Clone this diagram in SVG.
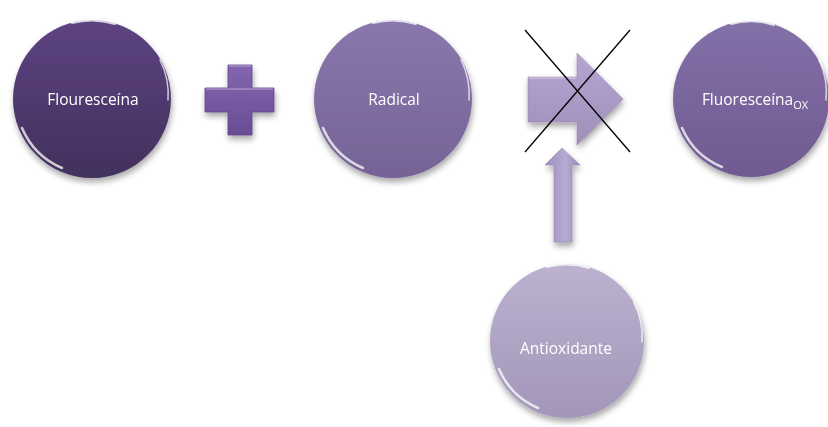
<svg xmlns="http://www.w3.org/2000/svg" width="828" height="427" viewBox="0 0 828 427">
<defs>
<linearGradient id="g1" x1="0" y1="0" x2="0" y2="1"><stop offset="0" stop-color="#5d4381"/><stop offset="1" stop-color="#42305d"/></linearGradient>
<linearGradient id="g2" x1="0" y1="0" x2="0" y2="1"><stop offset="0" stop-color="#8a77ad"/><stop offset="1" stop-color="#766396"/></linearGradient>
<linearGradient id="g3" x1="0" y1="0" x2="0" y2="1"><stop offset="0" stop-color="#8470a8"/><stop offset="1" stop-color="#6f5a91"/></linearGradient>
<linearGradient id="g4" x1="0" y1="0" x2="0" y2="1"><stop offset="0" stop-color="#bcb2cf"/><stop offset="1" stop-color="#a396b9"/></linearGradient>
<linearGradient id="gp" x1="0" y1="0" x2="0" y2="1"><stop offset="0" stop-color="#8466b0"/><stop offset="1" stop-color="#6a4c96"/></linearGradient>
<linearGradient id="ga" x1="0" y1="0" x2="0" y2="1"><stop offset="0" stop-color="#b4a6d0"/><stop offset="1" stop-color="#9d8fba"/></linearGradient>
<linearGradient id="gu" x1="0" y1="0" x2="1" y2="0"><stop offset="0" stop-color="#9c8fbd"/><stop offset="0.6" stop-color="#b7aad2"/><stop offset="1" stop-color="#958ab2"/></linearGradient>
<filter id="sh" x="-20%" y="-20%" width="140%" height="150%"><feGaussianBlur in="SourceAlpha" stdDeviation="3"/><feOffset dx="1" dy="4"/><feComponentTransfer><feFuncA type="linear" slope="0.35"/></feComponentTransfer><feMerge><feMergeNode/><feMergeNode in="SourceGraphic"/></feMerge></filter>
</defs>
<style>
.t{font-family:"Open Sans","Liberation Sans",sans-serif;font-size:15.5px;fill:#ffffff;text-anchor:middle}
.hl{fill:none;stroke:#ffffff;stroke-linecap:round;stroke-opacity:0.75}
.x{stroke:#000000;stroke-width:1.3}
</style>
<g id="flouresceina" filter="url(#sh)">
<circle cx="92" cy="99" r="79" fill="url(#g1)"/>
<path class="hl" d="M22 128 A76 76 0 0 0 62 168" stroke-width="2.5"/>
<path class="hl" d="M72 23 A78 78 0 0 1 115 24" stroke-width="2" stroke-opacity="0.5"/>
<path class="hl" d="M160 60 A76 76 0 0 1 168 100" stroke-width="1.5" stroke-opacity="0.5"/>
<text class="t" x="93" y="105">Flouresceína</text>
</g>
<g id="plus" filter="url(#sh)">
<path d="M228 65 H252 V88 H274 V112 H252 V135 H228 V112 H205 V88 H228 Z" fill="url(#gp)" stroke="#5e4488" stroke-width="0.8"/>
<path d="M229 66 H251 M206 89 H273" stroke="#b9a6d8" stroke-width="1.2"/>
</g>
<g id="radical" filter="url(#sh)">
<circle cx="393" cy="99" r="79" fill="url(#g2)"/>
<path class="hl" d="M323 128 A76 76 0 0 0 363 168" stroke-width="2.5"/>
<path class="hl" d="M373 23 A78 78 0 0 1 416 24" stroke-width="2" stroke-opacity="0.5"/>
<path class="hl" d="M461 60 A76 76 0 0 1 469 100" stroke-width="1.5" stroke-opacity="0.5"/>
<text class="t" x="394" y="105">Radical</text>
</g>
<g id="fluoresceina-ox" filter="url(#sh)">
<circle cx="751" cy="99" r="78" fill="url(#g3)"/>
<path class="hl" d="M682 128 A75 75 0 0 0 722 167" stroke-width="2.5"/>
<path class="hl" d="M731 24 A77 77 0 0 1 774 25" stroke-width="2" stroke-opacity="0.5"/>
<path class="hl" d="M819 60 A75 75 0 0 1 826 100" stroke-width="1.5" stroke-opacity="0.5"/>
<text class="t" x="755" y="105">Fluoresceína<tspan font-size="11" dy="4">OX</tspan></text>
</g>
<g id="antioxidante" filter="url(#sh)">
<circle cx="567" cy="341" r="77" fill="url(#g4)"/>
<path class="hl" d="M499 369 A74 74 0 0 0 538 408" stroke-width="2.5"/>
<path class="hl" d="M547 267 A76 76 0 0 1 589 268" stroke-width="2" stroke-opacity="0.5"/>
<path class="hl" d="M634 303 A74 74 0 0 1 642 342" stroke-width="1.5" stroke-opacity="0.5"/>
<text class="t" x="566" y="354">Antioxidante</text>
</g>
<g id="connectors">
<g filter="url(#sh)">
<path d="M528 77 H577 V53 L623 99 L577 145 V122 H528 Z" fill="url(#ga)" stroke="#9a8cb8" stroke-width="0.6"/>
<path d="M529 78 H576" stroke="#d6cce8" stroke-width="1.2"/>
<path d="M554 242 V165 H545 L562 148 L580 165 H572 V242 Z" fill="url(#gu)" stroke="#9689b4" stroke-width="0.6"/>
</g>
<line class="x" x1="525" y1="30" x2="630" y2="152"/>
<line class="x" x1="630" y1="30" x2="525" y2="152"/>
</g>
</svg>
